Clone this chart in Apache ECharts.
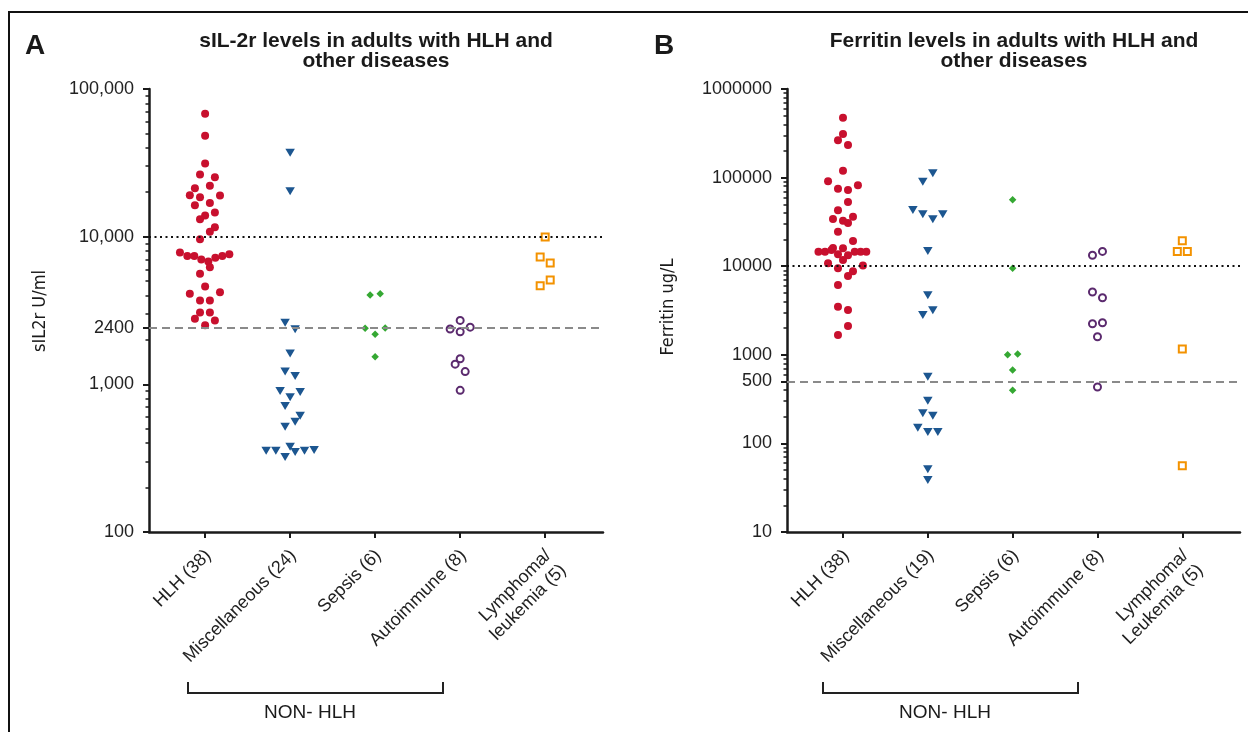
<!DOCTYPE html>
<html>
<head>
<meta charset="utf-8">
<script src="https://cdn.jsdelivr.net/npm/echarts@6/dist/echarts.min.js"></script>
<style>
  html, body { margin: 0; padding: 0; background: #fff; }
  #chart { width: 1248px; height: 732px; }
</style>
</head>
<body>
<div id="chart"></div>
<script>
// categories
const categoriesA = ['HLH (38)', 'Miscellaneous (24)', 'Sepsis (6)', 'Autoimmune (8)', 'Lymphoma/\nleukemia (5)'];
const categoriesB = ['HLH (38)', 'Miscellaneous (19)', 'Sepsis (6)', 'Autoimmune (8)', 'Lymphoma/\nLeukemia (5)'];

// y tick labels
const ticksA = [100, 1000, 2400, 10000, 100000];
const tickTextA = ['100', '1,000', '2400', '10,000', '100,000'];
const ticksB = [10, 100, 500, 1000, 10000, 100000, 1000000];
const tickTextB = ['10', '100', '500', '1000', '10000', '100000', '1000000'];

// reference lines
const cutoffsA = [10000, 2400];
const cutoffsB = [10000, 500];

// panel A: sIL-2r (U/ml), spread = horizontal jitter in category units
const hlhA = [67900, 48200, 31300, 26400, 25300, 21300, 22100, 19100, 18500, 19000, 16300, 16900, 14600, 13900, 13100, 11600, 10800, 9600, 7800, 7400, 7400, 7000, 6800, 7200, 7400, 7600, 6200, 5600, 4600, 4100, 4200, 3700, 3700, 3070, 3070, 2780, 2710, 2510];
const hlhSpreadA = [0, 0, 0, -0.06, 0.115, -0.12, 0.056, -0.18, -0.06, 0.175, -0.12, 0.056, 0.115, 0, -0.06, 0.115, 0.056, -0.06, -0.296, -0.209, -0.127, -0.045, 0.038, 0.12, 0.202, 0.285, 0.056, -0.06, 0, -0.18, 0.175, -0.06, 0.056, -0.06, 0.056, -0.12, 0.115, 0];
const miscA = [37000, 20300, 2610, 2360, 1620, 1220, 1140, 901, 817, 887, 713, 613, 558, 516, 355, 355, 378, 348, 355, 359, 322];
const miscSpreadA = [0, 0, -0.059, 0.059, 0, -0.059, 0.059, -0.118, 0, 0.118, -0.059, 0.118, 0.059, -0.059, -0.282, -0.168, 0, 0.059, 0.169, 0.282, -0.059];
const sepsisA = [4030, 4110, 2400, 2410, 2180, 1540];
const sepsisSpreadA = [-0.059, 0.059, -0.118, 0.118, 0, 0];
const autoA = [2710, 2370, 2270, 2440, 1490, 1370, 1220, 911];
const autoSpreadA = [0, -0.118, 0, 0.118, 0, -0.059, 0.059, 0];
const lymphA = [9930, 7280, 6630, 5080, 4650];
const lymphSpreadA = [0, -0.059, 0.059, 0.059, -0.059];

// panel B: ferritin (ug/L)
const hlhB = [474000, 310000, 264000, 233000, 119700, 90800, 75000, 72400, 81900, 53100, 42800, 34100, 32600, 30700, 36200, 24500, 19200, 14600, 14600, 15200, 16000, 15900, 13600, 13300, 14600, 14600, 14600, 11750, 10800, 9470, 10200, 8760, 7750, 6140, 3490, 3210, 2110, 1670];
const hlhSpreadB = [0, 0, -0.059, 0.059, 0, -0.176, -0.059, 0.059, 0.176, 0.059, -0.059, -0.118, 0, 0.059, 0.118, -0.059, 0.118, -0.289, -0.212, -0.136, -0.118, 0, -0.059, 0.059, 0.138, 0.208, 0.275, 0, -0.176, -0.059, 0.235, 0.118, 0.059, -0.059, -0.059, 0.059, 0.059, -0.059];
const miscB = [111800, 89900, 43100, 38500, 33800, 38500, 14850, 4700, 2810, 3180, 566, 303, 219, 205, 150, 134.5, 134.5, 51, 38.6];
const miscSpreadB = [0.059, -0.059, -0.176, -0.059, 0.059, 0.176, 0, 0, -0.059, 0.059, 0, 0, -0.059, 0.059, -0.118, 0, 0.118, 0, 0];
const sepsisB = [56300, 9470, 1000, 1020, 674, 397];
const sepsisSpreadB = [0, 0, -0.059, 0.059, 0, 0];
const autoB = [13300, 14700, 5120, 4410, 2240, 2300, 1600, 433];
const autoSpreadB = [-0.059, 0.059, -0.059, 0.059, -0.059, 0.059, 0, 0];
const lymphB = [19400, 14700, 14700, 1160, 56];
const lymphSpreadB = [0, -0.059, 0.059, 0, 0];

const FONT = '"Liberation Sans", Arial, sans-serif';
const NARROW = '"Liberation Sans Narrow", "DejaVu Sans Condensed", sans-serif';
const INK = '#1a1a1a';

const toPoints = (cat, values, spread) => values.map((v, i) => [cat + spread[i], v]);

// log minor ticks at 2..9 of every decade
const minorTicks = (from, to) => {
  const out = [];
  for (let d = from; d < to; d *= 10) {
    for (let k = 2; k <= 9; k++) out.push(d * k);
  }
  return out;
};

const groupStyles = [
  { name: 'HLH', symbol: 'circle', symbolSize: 8, itemStyle: { color: '#c8102e', opacity: 1 } },
  { name: 'Misc', symbol: 'triangle', symbolSize: [9.5, 8], symbolRotate: 180, itemStyle: { color: '#1c5690', opacity: 1 } },
  { name: 'Sepsis', symbol: 'diamond', symbolSize: 7.5, itemStyle: { color: '#35a833', opacity: 1 } },
  { name: 'Autoimmune', symbol: 'emptyCircle', symbolSize: 7, itemStyle: { color: '#5b2a6e', borderWidth: 2, opacity: 1 } },
  { name: 'Lymphoma', symbol: 'emptyRect', symbolSize: 7, itemStyle: { color: '#f39200', borderWidth: 2.2, opacity: 1 } },
];

const buildSeries = (panel, groups, cutoffs) => groups.map(([values, spread], i) => {
  const s = Object.assign({}, groupStyles[i], {
    type: 'scatter',
    xAxisIndex: panel,
    yAxisIndex: panel * 2,
    data: toPoints(i, values, spread),
    silent: true,
  });
  if (i === 0) {
    s.markLine = {
      silent: true,
      symbol: ['none', 'none'],
      label: { show: false },
      data: [
        { yAxis: cutoffs[0], lineStyle: { color: '#111', width: 2, type: [2, 3.5] } },
        { yAxis: cutoffs[1], lineStyle: { color: '#8a8a8a', width: 2, type: [8, 5] } },
      ],
    };
  }
  return s;
});

const xAxisFor = (panel, cats) => ({
  type: 'value',
  gridIndex: panel,
  min: -0.66,
  max: 4.68,
  splitLine: { show: false },
  axisLine: { onZero: false, lineStyle: { color: INK, width: 2.5 } },
  axisTick: { customValues: [0, 1, 2, 3, 4], length: 6, lineStyle: { color: INK, width: 2 } },
  axisLabel: {
    customValues: [0, 1, 2, 3, 4],
    formatter: (v) => cats[Math.round(v)],
    rotate: 45,
    verticalAlign: 'top',
    padding: [0, 6, 0, 0],
    margin: 9,
    color: '#222',
    fontFamily: FONT,
    fontSize: 18,
    lineHeight: 21,
  },
});

const yAxisFor = (panel, min, max, ticks, texts) => ({
  type: 'log',
  logBase: 10,
  gridIndex: panel,
  min: min,
  max: max,
  position: 'left',
  splitLine: { show: false },
  axisLine: { onZero: false, lineStyle: { color: INK, width: 2.5 } },
  axisTick: { customValues: ticks, length: 6, lineStyle: { color: INK, width: 2 } },
  axisLabel: {
    customValues: ticks,
    formatter: (v) => texts[ticks.findIndex(t => Math.abs(t - v) / t < 1e-6)],
    margin: 15,
    color: '#222',
    fontFamily: FONT,
    fontSize: 18,
  },
});

const minorAxisFor = (panel, min, max) => ({
  type: 'log',
  logBase: 10,
  gridIndex: panel,
  min: min,
  max: max,
  position: 'left',
  offset: 0,
  splitLine: { show: false },
  axisLine: { show: false, onZero: false },
  axisTick: { customValues: minorTicks(min, max), length: 3.5, lineStyle: { color: INK, width: 1.5 } },
  axisLabel: { show: false },
});

const textEl = (x, y, text, font, extra) => Object.assign({
  type: 'text',
  x: x,
  y: y,
  silent: true,
  style: { text: text, font: font, fill: '#1a1a1a', align: 'center', verticalAlign: 'middle', textAlign: 'center', textVerticalAlign: 'middle', lineHeight: 20 },
}, extra || {});

const bracket = (x1, x2) => ({
  type: 'polyline',
  silent: true,
  shape: { points: [[x1, 682], [x1, 693], [x2, 693], [x2, 682]] },
  style: { stroke: '#222', lineWidth: 2, fill: null },
});

const option = {
  animation: false,
  backgroundColor: '#fff',
  grid: [
    { left: 149, top: 89, width: 454, height: 443 },
    { left: 787, top: 89, width: 453, height: 443 },
  ],
  xAxis: [xAxisFor(0, categoriesA), xAxisFor(1, categoriesB)],
  yAxis: [
    yAxisFor(0, 100, 100000, ticksA, tickTextA),
    minorAxisFor(0, 100, 100000),
    yAxisFor(1, 10, 1000000, ticksB, tickTextB),
    minorAxisFor(1, 10, 1000000),
  ],
  series: [
    ...buildSeries(0, [[hlhA, hlhSpreadA], [miscA, miscSpreadA], [sepsisA, sepsisSpreadA], [autoA, autoSpreadA], [lymphA, lymphSpreadA]], cutoffsA),
    ...buildSeries(1, [[hlhB, hlhSpreadB], [miscB, miscSpreadB], [sepsisB, sepsisSpreadB], [autoB, autoSpreadB], [lymphB, lymphSpreadB]], cutoffsB),
  ],
  graphic: [
    // figure frame
    { type: 'line', silent: true, shape: { x1: 8, y1: 12, x2: 1248, y2: 12 }, style: { stroke: '#111', lineWidth: 2 } },
    { type: 'line', silent: true, shape: { x1: 9, y1: 12, x2: 9, y2: 732 }, style: { stroke: '#111', lineWidth: 2 } },
    textEl(35, 46, 'A', 'bold 28px ' + FONT),
    textEl(664, 46, 'B', 'bold 28px ' + FONT),
    textEl(376, 51, 'sIL-2r levels in adults with HLH and\nother diseases', 'bold 21px ' + FONT),
    textEl(1014, 51, 'Ferritin levels in adults with HLH and\nother diseases', 'bold 21px ' + FONT),
    textEl(40, 311, 'sIL2r U/ml', '18px ' + NARROW, { rotation: Math.PI / 2 }),
    textEl(668, 307, 'Ferritin ug/L', '18px ' + NARROW, { rotation: Math.PI / 2 }),
    bracket(188, 443),
    bracket(823, 1078),
    textEl(310, 713, 'NON- HLH', '19px ' + FONT),
    textEl(945, 713, 'NON- HLH', '19px ' + FONT),
  ],
};

const chart = echarts.init(document.getElementById('chart'));
chart.setOption(option);
</script>
</body>
</html>
